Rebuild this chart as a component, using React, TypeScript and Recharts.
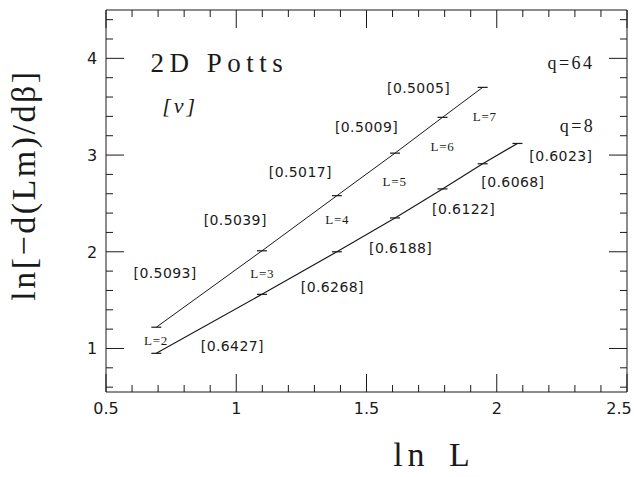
import React from "react";
import { Scatter, ScatterChart, XAxis, YAxis } from "recharts";

// lattice sizes and measured ln[-d(Lm)/dβ] values
const sizesQ64 = [2, 3, 4, 5, 6, 7];
const valuesQ64 = [1.22, 2.01, 2.58, 3.02, 3.39, 3.7];
const sizesQ8 = [2, 3, 4, 5, 6, 7, 8];
const valuesQ8 = [0.95, 1.56, 2.0, 2.35, 2.65, 2.91, 3.12];

// effective exponents [ν] between neighbouring sizes
const nuQ64 = [
  { text: "[0.5093]", x: 0.727, y: 1.78 },
  { text: "[0.5039]", x: 0.996, y: 2.33 },
  { text: "[0.5017]", x: 1.246, y: 2.83 },
  { text: "[0.5009]", x: 1.5, y: 3.29 },
  { text: "[0.5005]", x: 1.7, y: 3.69 },
];
const nuQ8 = [
  { text: "[0.6427]", x: 0.985, y: 1.03 },
  { text: "[0.6268]", x: 1.369, y: 1.64 },
  { text: "[0.6188]", x: 1.631, y: 2.04 },
  { text: "[0.6122]", x: 1.873, y: 2.44 },
  { text: "[0.6068]", x: 2.062, y: 2.72 },
  { text: "[0.6023]", x: 2.246, y: 2.99 },
];
const sizeLabels = [
  { text: "L=2", x: 0.692, y: 1.08 },
  { text: "L=3", x: 1.1, y: 1.78 },
  { text: "L=4", x: 1.388, y: 2.33 },
  { text: "L=5", x: 1.608, y: 2.73 },
  { text: "L=6", x: 1.792, y: 3.09 },
  { text: "L=7", x: 1.954, y: 3.4 },
];
const seriesLabels = [
  { text: "q=64", x: 2.285, y: 3.95 },
  { text: "q=8", x: 2.31, y: 3.3 },
];
const titleLabels = [{ text: "2D Potts", x: 0.935, y: 3.95 }];
const nuLabel = [{ text: "[ν]", x: 0.785, y: 3.51 }];

const xTicks = [
  0.5, 0.6, 0.7, 0.8, 0.9, 1, 1.1, 1.2, 1.3, 1.4, 1.5, 1.6, 1.7, 1.8, 1.9, 2,
  2.1, 2.2, 2.3, 2.4, 2.5,
];
const xMajor = [0.5, 1, 1.5, 2, 2.5];
const yTicks = [
  0.6, 0.8, 1, 1.2, 1.4, 1.6, 1.8, 2, 2.2, 2.4, 2.6, 2.8, 3, 3.2, 3.4, 3.6,
  3.8, 4, 4.2, 4.4,
];
const yMajor = [1, 2, 3, 4];

const q64Data = sizesQ64.map((L, i) => ({ x: Math.log(L), y: valuesQ64[i] }));
const q8Data = sizesQ8.map((L, i) => ({ x: Math.log(L), y: valuesQ8[i] }));

const SERIF = "'Liberation Serif', 'DejaVu Serif', serif";
const SANS = "'DejaVu Sans', sans-serif";
const INK = "#1a1a1a";

// plot frame in pixels
const LEFT = 106;
const RIGHT = 627;
const TOP = 10;
const BOTTOM = 392;

const isMajor = (v: number, list: number[]) =>
  list.some((m) => Math.abs(m - v) < 1e-6);

const fmt = (v: number) => String(Math.round(v * 10) / 10);

function BottomTick(props: any) {
  const { x, payload } = props;
  const major = isMajor(payload.value, xMajor);
  // last label sits at the page edge, keep it inside
  const lx = Math.min(x, 634 - 15);
  return (
    <g>
      <line x1={x} x2={x} y1={BOTTOM} y2={BOTTOM - (major ? 18 : 7)} stroke={INK} />
      {major && (
        <text x={lx} y={BOTTOM + 22} textAnchor="middle" fontSize={16} fontFamily={SANS} fill={INK}>
          {fmt(payload.value)}
        </text>
      )}
    </g>
  );
}

function TopTick(props: any) {
  const { x, payload } = props;
  const major = isMajor(payload.value, xMajor);
  return <line x1={x} x2={x} y1={TOP} y2={TOP + (major ? 18 : 7)} stroke={INK} />;
}

function LeftTick(props: any) {
  const { y, payload } = props;
  const major = isMajor(payload.value, yMajor);
  return (
    <g>
      <line x1={LEFT} x2={LEFT + (major ? 18 : 7)} y1={y} y2={y} stroke={INK} />
      {major && (
        <text x={LEFT - 14} y={y + 6} textAnchor="middle" fontSize={16} fontFamily={SANS} fill={INK}>
          {fmt(payload.value)}
        </text>
      )}
    </g>
  );
}

function RightTick(props: any) {
  const { y, payload } = props;
  const major = isMajor(payload.value, yMajor);
  return <line x1={RIGHT} x2={RIGHT - (major ? 18 : 7)} y1={y} y2={y} stroke={INK} />;
}

const errorTick = (props: any) => (
  <line x1={props.cx - 5} x2={props.cx + 5} y1={props.cy} y2={props.cy} stroke={INK} strokeWidth={1.2} />
);

const textShape =
  (fontSize: number, family: string, spacing: number, italic = false) =>
  (props: any) => (
    <text
      x={props.cx}
      y={props.cy}
      textAnchor="middle"
      dominantBaseline="central"
      fontSize={fontSize}
      fontFamily={family}
      fontStyle={italic ? "italic" : "normal"}
      letterSpacing={spacing}
      fill={INK}
    >
      {props.payload.text}
    </text>
  );

export default function App() {
  return (
    <div style={{ position: "absolute", left: 0, top: 0, width: 634, height: 477, background: "#fff" }}>
      <ScatterChart
        width={634}
        height={477}
        margin={{ top: TOP - 1, right: 634 - RIGHT - 1, bottom: 477 - BOTTOM - 1, left: LEFT - 1 }}
      >
        <XAxis
          type="number"
          dataKey="x"
          domain={[0.5, 2.5]}
          ticks={xTicks}
          interval={0}
          height={1}
          tickLine={false}
          axisLine={{ stroke: INK }}
          tick={BottomTick}
          allowDataOverflow
        />
        <XAxis
          xAxisId="top"
          orientation="top"
          type="number"
          dataKey="x"
          domain={[0.5, 2.5]}
          ticks={xTicks}
          interval={0}
          height={1}
          tickLine={false}
          axisLine={{ stroke: INK }}
          tick={TopTick}
          allowDataOverflow
        />
        <YAxis
          type="number"
          dataKey="y"
          domain={[0.55, 4.5]}
          ticks={yTicks}
          interval={0}
          width={1}
          tickLine={false}
          axisLine={{ stroke: INK }}
          tick={LeftTick}
          allowDataOverflow
        />
        <YAxis
          yAxisId="right"
          orientation="right"
          type="number"
          dataKey="y"
          domain={[0.55, 4.5]}
          ticks={yTicks}
          interval={0}
          width={1}
          tickLine={false}
          axisLine={{ stroke: INK }}
          tick={RightTick}
          allowDataOverflow
        />
        <Scatter
          data={q64Data}
          line={{ stroke: INK, strokeWidth: 1 }}
          lineType="joint"
          shape={errorTick}
          isAnimationActive={false}
        />
        <Scatter
          data={q8Data}
          line={{ stroke: INK, strokeWidth: 1.2 }}
          lineType="joint"
          shape={errorTick}
          isAnimationActive={false}
        />
        <Scatter data={nuQ64} shape={textShape(14, SANS, 0.4)} isAnimationActive={false} />
        <Scatter data={nuQ8} shape={textShape(14, SANS, 0.4)} isAnimationActive={false} />
        <Scatter data={sizeLabels} shape={textShape(13, SERIF, 0.8)} isAnimationActive={false} />
        <Scatter data={seriesLabels} shape={textShape(18, SERIF, 2.5)} isAnimationActive={false} />
        <Scatter data={titleLabels} shape={textShape(27, SERIF, 5.5)} isAnimationActive={false} />
        <Scatter data={nuLabel} shape={textShape(22, SERIF, 3, true)} isAnimationActive={false} />
      </ScatterChart>
      <svg width={634} height={477} style={{ position: "absolute", left: 0, top: 0, pointerEvents: "none" }}>
        <text
          transform="translate(35,185) rotate(-90)"
          textAnchor="middle"
          fontSize={34}
          fontFamily={SERIF}
          letterSpacing={2.5}
          fill={INK}
        >
          ln[−d(Lm)/dβ]
        </text>
        <text x={434} y={466} textAnchor="middle" fontSize={34} fontFamily={SERIF} letterSpacing={5} wordSpacing={6} fill={INK}>
          ln L
        </text>
      </svg>
    </div>
  );
}
